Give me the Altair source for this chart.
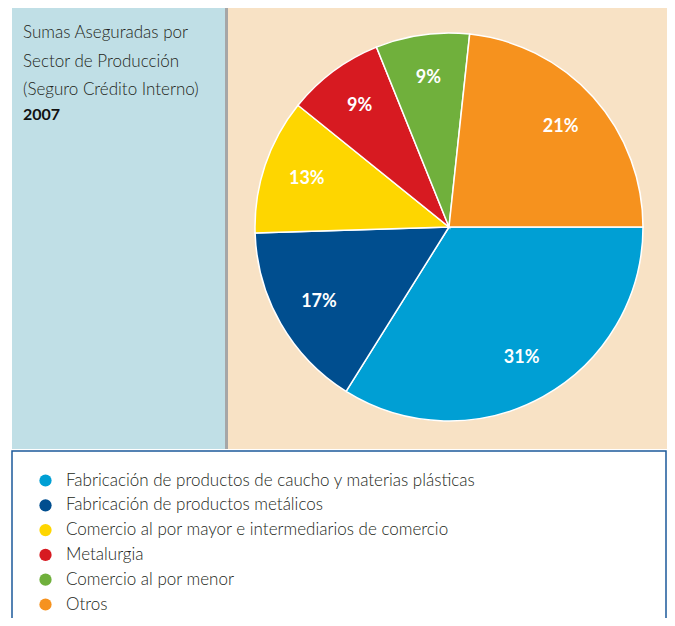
import math
import altair as alt
import pandas as pd

# ---- data ----
categories = [
    "Fabricación de productos de caucho y materias plásticas",
    "Fabricación de productos metálicos",
    "Comercio al por mayor e intermediarios de comercio",
    "Metalurgia",
    "Comercio al por menor",
    "Otros",
]
shares = [33.9, 15.6, 11.3, 8.1, 7.8, 23.3]          # slice sizes as drawn
labels = ["31%", "17%", "13%", "9%", "9%", "21%"]      # printed labels
colors = ["#009fd4", "#004e8f", "#fed600", "#d71a21", "#70b03c", "#f6921e"]
title_lines = ["Sumas Aseguradas por", "Sector de Producción", "(Seguro Crédito Interno)"]
year = "2007"

df = pd.DataFrame({"cat": categories, "share": shares, "label": labels,
                   "idx": list(range(len(categories)))})

W, H = 659, 610
CX, CY, R = 441, 219, 194
FONT = "Lato"
start = math.pi / 2

def box(x1, x2, y1, y2, fill, stroke=None, sw=0):
    kw = dict(fill=fill)
    if stroke:
        kw.update(stroke=stroke, strokeWidth=sw)
    return alt.Chart(pd.DataFrame({"a": [0]})).mark_rect(**kw).encode(
        x=alt.value(x1), x2=alt.value(x2), y=alt.value(y1), y2=alt.value(y2))

bg_blue = box(4, 217, 0, 441, "#c0dfe6")
shadow = box(217, 220, 0, 441, "#a6a6a6")
bg_beige = box(220, 662, 0, 441, "#f8e2c5")
legend_box = box(4, 658, 443, 640, "white", "#1d5a9a", 1.5)

theta = alt.Theta("share:Q", stack=True,
                  scale=alt.Scale(range=[start, start + 2 * math.pi]))

pie = alt.Chart(df).mark_arc(x=CX, y=CY, outerRadius=R, stroke="white",
                             strokeWidth=1.5).encode(
    theta=theta,
    order=alt.Order("idx:Q"),
    color=alt.Color("cat:N", scale=alt.Scale(domain=categories, range=colors),
                    legend=alt.Legend(orient="none", legendX=29, legendY=464,
                                      title=None, symbolType="circle",
                                      symbolSize=150, symbolStrokeWidth=0,
                                      labelFont=FONT, labelFontSize=17,
                                      labelFontWeight=300, labelColor="#231f20",
                                      labelOffset=12, labelLimit=600,
                                      rowPadding=6.8, padding=0)),
)

pie_text = alt.Chart(df).mark_text(x=CX, y=CY, radius=150, color="white",
                                   font=FONT, fontSize=18, fontWeight="bold").encode(
    theta=theta,
    order=alt.Order("idx:Q"),
    text="label:N",
)

tdf = pd.DataFrame({"t": title_lines, "i": [0, 1, 2]})
title = alt.Chart(tdf).mark_text(align="left", baseline="middle", font=FONT,
                                 fontSize=17, fontWeight=300, color="#231f20").encode(
    x=alt.value(15),
    y=alt.Y("i:Q", scale=alt.Scale(domain=[0, 2], range=[25, 82]), axis=None),
    text="t:N",
)
year_text = alt.Chart(pd.DataFrame({"t": [year]})).mark_text(
    align="left", baseline="middle", font=FONT, fontSize=16, fontWeight="bold",
    color="#111111").encode(x=alt.value(15), y=alt.value(107), text="t:N")

chart = alt.layer(bg_blue, shadow, bg_beige, legend_box, pie, pie_text, title,
                  year_text).properties(
    width=W, height=H, padding=0, autosize=alt.AutoSizeParams(type="none"),
).configure_view(stroke=None)

chart.save("out.html", embed_options={"renderer": "svg", "actions": False})
